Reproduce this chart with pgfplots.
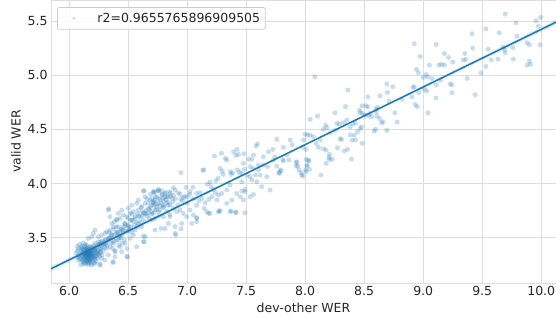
\documentclass[border=0pt]{standalone}
\usepackage{pgfplots}
\pgfplotsset{compat=1.18}
\usepackage{fontspec}
\setmainfont{DejaVu Sans}
\definecolor{c0}{HTML}{1F77B4}
\definecolor{gridc}{HTML}{DDDDDD}
\definecolor{legc}{HTML}{CCCCCC}
\definecolor{txt}{HTML}{262626}
\begin{document}
\begin{tikzpicture}
\path[use as bounding box] (-51pt,-33pt) rectangle (505pt,283pt);
\begin{axis}[
  scale only axis, width=505pt, height=283pt,
  xmin=5.847, xmax=10.125, ymin=3.082, ymax=5.694,
  xtick={6.0,6.5,...,10.0}, ytick={3.5,4.0,4.5,5.0,5.5},
  xticklabel style={/pgf/number format/fixed, /pgf/number format/fixed zerofill, /pgf/number format/precision=1},
  yticklabel style={/pgf/number format/fixed, /pgf/number format/fixed zerofill, /pgf/number format/precision=1},
  /pgf/number format/assume math mode=true,
  ticklabel style={font=\fontsize{12.5}{14}\selectfont, text=txt},
  label style={font=\fontsize{12.5}{14}\selectfont, text=txt},
  major tick length=0pt,
  grid=major, grid style={gridc, line width=0.8pt},
  axis line style={gridc, line width=0.8pt},
  xlabel={dev-other WER}, ylabel={valid WER},
  legend style={at={(0.012,0.975)}, anchor=north west, draw=legc, line width=0.8pt, rounded corners=2pt, fill=white, fill opacity=0.8, draw opacity=1, text opacity=1, font=\fontsize{12.5}{14}\selectfont, text=txt, inner xsep=3pt, inner ysep=3.5pt},
  legend cell align=left,
]
\addplot[only marks, mark=*, mark size=2.5pt, mark options={draw opacity=0, fill=c0, fill opacity=0.25},
  legend image code/.code={\path[draw=none, fill=none] (0pt,-1pt) rectangle (35pt,1pt); \fill[c0, fill opacity=0.25, draw=none] (13.5pt,0pt) circle (1.6pt);}] table {
x y
9.695 5.564
9.955 5.502
9.994 5.533
9.785 5.483
9.975 5.453
9.644 5.391
9.531 5.428
9.413 5.382
9.794 5.361
8.924 5.290
9.110 5.284
9.880 5.300
9.900 5.280
9.990 5.280
9.420 5.250
9.550 5.240
9.675 5.260
9.690 5.234
9.695 5.207
9.760 5.253
8.975 5.173
9.180 5.200
9.215 5.164
9.250 5.121
9.353 5.200
9.360 5.146
9.340 5.140
9.576 5.142
9.633 5.148
9.763 5.148
9.900 5.130
9.880 5.093
9.910 5.100
9.053 5.093
9.133 5.093
9.155 5.100
9.180 5.093
9.531 5.081
8.943 5.053
8.960 5.022
9.490 5.022
9.000 4.980
9.025 5.007
9.036 4.985
9.073 4.970
9.373 4.970
9.110 4.911
9.147 4.955
9.229 4.920
9.243 4.911
8.913 4.887
8.924 4.893
8.904 4.800
8.963 4.840
9.030 4.856
9.010 4.870
9.243 4.838
9.108 4.790
9.440 4.820
8.820 4.777
8.932 4.730
8.950 4.710
9.040 4.653
8.082 4.985
8.362 4.863
8.692 4.918
8.743 4.893
8.697 4.841
8.633 4.810
8.531 4.800
8.712 4.761
8.342 4.710
8.483 4.718
8.517 4.718
8.531 4.706
8.600 4.687
8.613 4.703
8.252 4.653
8.105 4.623
8.042 4.592
8.460 4.678
8.466 4.653
8.483 4.648
8.506 4.632
8.534 4.629
8.551 4.648
8.562 4.616
8.602 4.662
8.608 4.623
8.631 4.601
8.760 4.653
8.647 4.561
8.659 4.570
8.780 4.567
8.692 4.491
8.585 4.482
8.596 4.500
8.353 4.586
8.325 4.561
8.290 4.546
8.269 4.555
8.172 4.540
8.184 4.515
8.155 4.500
8.212 4.469
8.257 4.494
8.308 4.408
8.297 4.413
8.381 4.450
8.415 4.445
8.426 4.401
8.398 4.401
8.443 4.478
8.466 4.506
8.477 4.524
8.381 4.524
8.404 4.549
8.426 4.561
8.483 4.371
8.392 4.226
8.331 4.300
8.359 4.315
8.274 4.330
8.229 4.223
8.201 4.242
8.206 4.269
8.178 4.309
8.155 4.321
8.070 4.432
8.042 4.447
8.093 4.371
8.113 4.334
8.127 4.401
8.020 4.447
8.000 4.457
7.986 4.401
7.980 4.334
8.008 4.315
8.028 4.217
8.014 4.171
8.036 4.131
7.930 4.201
7.924 4.161
7.947 4.125
7.972 4.078
8.008 4.109
8.133 4.078
7.873 4.401
7.890 4.358
7.816 4.334
7.760 4.408
7.726 4.315
7.743 4.247
7.760 4.161
7.788 4.125
7.811 4.223
7.845 4.263
7.862 4.217
7.782 4.094
7.796 4.116
7.777 4.100
7.816 4.208
7.924 4.193
7.938 4.162
7.966 4.100
7.980 4.069
8.003 4.125
8.017 4.162
8.031 4.208
8.008 4.223
8.178 4.186
8.206 4.223
6.947 4.100
7.141 4.127
7.231 4.254
7.291 4.279
7.336 4.217
7.325 4.232
7.393 4.293
7.424 4.315
7.435 4.269
7.413 4.260
7.480 4.275
7.364 4.109
7.375 4.085
7.384 4.100
7.426 4.125
7.443 4.103
7.463 4.094
7.486 4.131
7.506 4.078
7.280 4.140
7.297 4.115
7.305 4.085
7.263 4.048
7.243 4.026
7.520 4.223
7.548 4.223
7.562 4.263
7.585 4.346
7.596 4.367
7.534 4.155
7.562 4.140
7.579 4.078
7.548 4.032
7.604 4.125
7.618 4.078
7.647 4.171
7.681 4.155
7.463 4.017
7.492 3.924
7.562 3.900
7.449 3.878
7.379 3.848
7.364 3.740
7.415 3.731
7.336 3.817
7.271 3.749
7.195 4.014
7.172 3.995
7.203 3.970
7.223 3.946
7.240 3.915
7.212 3.878
7.184 3.854
7.153 3.823
7.181 3.725
7.144 3.771
7.265 3.894
7.252 3.848
7.110 3.915
7.124 3.863
7.081 3.909
7.048 3.965
7.025 3.925
6.991 3.965
7.002 3.878
6.968 3.872
6.946 3.854
6.926 3.915
6.898 3.940
6.884 3.894
6.855 3.925
6.841 3.878
6.813 3.909
6.785 3.934
6.799 3.863
6.771 3.854
6.742 3.878
6.757 3.934
6.723 3.925
6.714 3.817
6.742 3.786
6.771 3.755
6.799 3.786
6.827 3.817
6.855 3.802
6.884 3.771
6.912 3.740
6.940 3.755
6.968 3.725
6.997 3.694
7.025 3.755
7.053 3.709
7.081 3.679
7.081 3.648
7.039 3.632
6.954 3.632
6.898 3.602
6.841 3.632
6.799 3.694
6.728 3.679
6.714 3.725
6.700 3.663
6.855 3.694
7.166 3.740
7.195 3.725
7.646 4.247
7.689 4.294
7.731 4.217
7.604 4.171
7.477 4.186
7.533 4.063
7.590 4.017
7.675 4.063
7.632 3.971
7.703 3.940
7.533 3.878
7.477 3.848
7.420 3.909
7.336 3.940
7.293 3.909
7.364 3.986
6.636 3.934
6.336 3.768
6.404 3.670
6.718 3.920
6.757 3.930
7.133 4.122
6.884 3.961
6.904 3.525
6.949 3.583
6.828 3.746
6.853 3.716
6.636 3.463
6.630 3.516
6.497 3.325
6.370 3.270
6.263 3.255
7.082 3.685
7.265 3.737
7.280 3.746
7.373 3.746
7.410 3.737
7.490 3.730
7.463 3.931
7.490 3.946
6.630 3.931
6.714 3.924
6.757 3.946
6.785 3.894
6.813 3.878
6.856 3.909
6.875 3.863
6.841 3.832
6.799 3.801
6.757 3.817
6.728 3.847
6.700 3.801
6.672 3.771
6.644 3.817
6.615 3.786
6.587 3.755
6.573 3.817
6.545 3.740
6.517 3.725
6.488 3.694
6.460 3.709
6.432 3.678
6.404 3.663
6.384 3.648
6.361 3.632
6.347 3.694
6.333 3.755
6.375 3.601
6.347 3.571
6.319 3.555
6.305 3.540
6.276 3.525
6.248 3.509
6.220 3.571
6.206 3.540
6.192 3.509
6.163 3.494
6.630 3.463
6.644 3.509
6.728 3.571
6.779 3.586
6.813 3.586
6.898 3.540
6.474 3.448
6.488 3.325
6.446 3.371
6.432 3.417
6.389 3.371
6.375 3.279
6.305 3.294
6.276 3.309
6.262 3.248
6.220 3.263
6.192 3.248
6.531 3.663
6.559 3.694
6.601 3.694
6.630 3.725
6.672 3.725
6.700 3.740
6.728 3.755
6.757 3.740
6.686 3.847
6.644 3.878
6.587 3.847
6.531 3.801
6.502 3.771
6.446 3.755
6.418 3.725
6.474 3.632
6.502 3.601
6.446 3.571
6.418 3.601
6.404 3.540
6.361 3.525
6.333 3.494
6.305 3.478
6.276 3.448
6.248 3.463
6.220 3.448
6.559 3.571
6.587 3.632
6.615 3.601
6.545 3.525
6.517 3.494
6.573 3.417
6.418 3.478
6.375 3.448
6.347 3.417
6.319 3.402
6.333 3.340
6.389 3.325
6.08 3.40
6.09 3.35
6.10 3.30
6.10 3.38
6.11 3.33
6.11 3.42
6.12 3.28
6.12 3.36
6.12 3.31
6.13 3.39
6.13 3.34
6.13 3.27
6.14 3.32
6.14 3.37
6.14 3.41
6.15 3.30
6.15 3.35
6.15 3.33
6.15 3.38
6.16 3.29
6.16 3.36
6.16 3.32
6.16 3.40
6.17 3.34
6.17 3.31
6.17 3.37
6.17 3.27
6.18 3.33
6.18 3.36
6.18 3.30
6.18 3.42
6.19 3.35
6.19 3.32
6.19 3.38
6.20 3.34
6.20 3.29
6.20 3.39
6.21 3.36
6.21 3.31
6.21 3.43
6.22 3.35
6.22 3.38
6.23 3.33
6.23 3.41
6.24 3.37
6.25 3.44
6.25 3.35
6.26 3.40
6.27 3.46
6.28 3.42
6.29 3.38
6.30 3.45
6.31 3.48
6.32 3.43
6.06 3.36
6.07 3.32
6.07 3.42
6.08 3.29
6.09 3.44
6.10 3.25
6.11 3.37
6.12 3.45
6.13 3.30
6.14 3.26
6.14 3.34
6.15 3.43
6.16 3.34
6.16 3.25
6.17 3.39
6.18 3.28
6.19 3.41
6.20 3.32
6.21 3.27
6.22 3.30
6.23 3.36
6.24 3.31
6.26 3.33
6.27 3.37
6.28 3.34
6.29 3.44
6.15 3.36
6.16 3.37
6.17 3.35
6.14 3.35
6.13 3.36
6.15 3.31
6.18 3.34
6.19 3.37
6.09 3.31
6.10 3.34
6.11 3.29
6.11 3.40
6.12 3.33
6.12 3.39
6.13 3.32
6.13 3.42
6.14 3.29
6.14 3.39
6.15 3.28
6.15 3.40
6.16 3.31
6.16 3.38
6.17 3.29
6.17 3.33
6.17 3.41
6.18 3.31
6.18 3.38
6.19 3.30
6.19 3.34
6.20 3.36
6.20 3.41
6.21 3.33
6.22 3.40
6.22 3.32
6.23 3.38
6.24 3.34
6.24 3.42
6.25 3.38
6.26 3.36
6.26 3.44
6.27 3.40
6.28 3.47
6.30 3.41
6.31 3.44
6.10 3.41
6.12 3.26
6.14 3.44
6.16 3.27
6.19 3.26
6.21 3.39
6.23 3.28
6.08 3.33
6.07 3.38
6.13 3.35
6.16 3.35
6.18 3.37
6.15 3.34
6.17 3.36
6.33 3.47
6.35 3.50
6.36 3.45
6.38 3.52
6.40 3.48
6.41 3.55
6.43 3.50
6.44 3.58
6.45 3.53
6.46 3.60
6.47 3.48
6.48 3.56
6.50 3.62
6.51 3.58
6.52 3.66
6.53 3.55
6.55 3.62
6.56 3.68
6.58 3.60
6.60 3.65
6.62 3.70
6.63 3.66
6.65 3.75
6.66 3.70
6.68 3.68
6.69 3.78
6.70 3.72
6.72 3.80
6.74 3.76
6.76 3.70
6.78 3.82
6.80 3.78
6.82 3.85
6.84 3.80
6.86 3.88
6.88 3.83
6.90 3.86
6.92 3.80
6.94 3.90
6.96 3.84
6.98 3.88
7.00 3.82
7.02 3.90
7.05 3.86
7.08 3.80
7.10 3.84
6.40 3.60
6.42 3.43
6.37 3.40
6.34 3.55
6.39 3.38
6.45 3.45
6.49 3.40
6.38 3.58
6.47 3.63
6.50 3.68
6.53 3.72
6.58 3.72
6.61 3.78
6.64 3.73
6.67 3.82
6.70 3.86
6.73 3.88
6.76 3.86
6.79 3.90
6.82 3.92
6.34 3.50
6.36 3.53
6.38 3.47
6.40 3.55
6.42 3.52
6.43 3.56
6.44 3.50
6.46 3.57
6.48 3.61
6.50 3.56
6.52 3.60
6.54 3.66
6.57 3.64
6.59 3.70
6.62 3.74
6.65 3.72
6.68 3.76
6.71 3.83
6.74 3.81
6.77 3.79
6.80 3.84
6.83 3.88
6.66 3.86
6.69 3.90
6.72 3.84
};
\addlegendentry{r2=0.9655765896909505}
\addplot[draw=none, fill=c0, fill opacity=0.15, forget plot] coordinates {(5.847,3.236) (8.0,4.364) (10.125,5.512) (10.125,5.467) (8.0,4.354) (5.847,3.191)} -- cycle;
\addplot[c0, line width=1.5pt, forget plot] coordinates {(5.847,3.2136) (10.125,5.4895)};
\end{axis}
\end{tikzpicture}
\end{document}
